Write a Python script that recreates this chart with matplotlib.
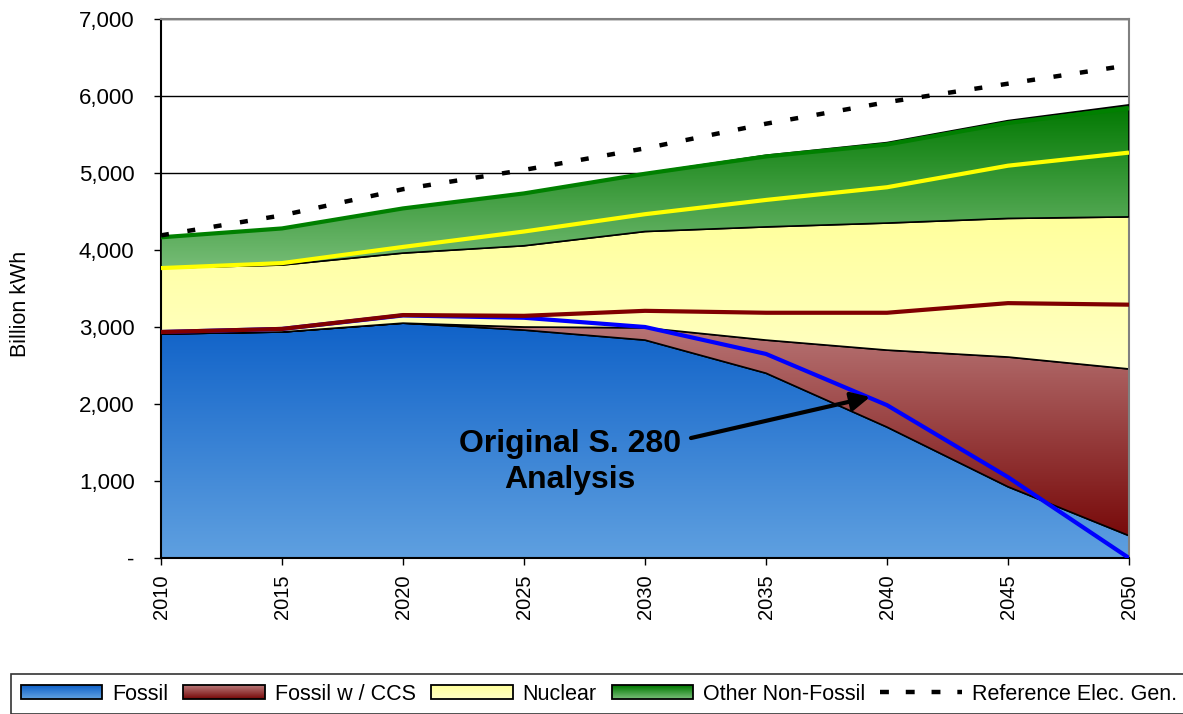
import numpy as np
import matplotlib
matplotlib.use("Agg")
import matplotlib.pyplot as plt
from matplotlib.colors import LinearSegmentedColormap
from matplotlib.patches import Rectangle, Patch
from matplotlib.lines import Line2D
from matplotlib.legend_handler import HandlerBase
from matplotlib.ticker import FuncFormatter, MultipleLocator

plt.rcParams["font.family"] = ["Liberation Sans", "DejaVu Sans"]

# ---- data (billion kWh) ----
years = [2010, 2015, 2020, 2025, 2030, 2035, 2040, 2045, 2050]
fossil = [2910, 2935, 3050, 2960, 2830, 2400, 1700, 925, 290]
fossil_ccs = [0, 0, 0, 40, 160, 430, 1000, 1685, 2165]
nuclear = [855, 870, 910, 1055, 1250, 1470, 1650, 1800, 1975]
other_non_fossil = [400, 475, 580, 680, 755, 930, 1045, 1270, 1455]
reference_gen = [4190, 4450, 4790, 5040, 5320, 5640, 5920, 6160, 6400]

# original S. 280 analysis (cumulative levels)
s280_fossil = [2935, 2975, 3150, 3120, 3000, 2650, 1985, 1050, 0]
s280_ccs_top = [2935, 2975, 3155, 3145, 3210, 3185, 3185, 3310, 3290]
s280_nuclear_top = [3765, 3830, 4040, 4240, 4465, 4650, 4815, 5095, 5265]
s280_total = [4165, 4280, 4540, 4735, 4990, 5215, 5370, 5650, 5840]

series_labels = ["Fossil", "Fossil w / CCS", "Nuclear", "Other Non-Fossil"]
reference_label = "Reference Elec. Gen."
annotation_text = "Original S. 280\nAnalysis"
y_label = "Billion kWh"

# gradient colours (top, bottom)
grad_colors = [
    ("#1062C8", "#5FA0E0"),
    ("#B87676", "#780A0A"),
    ("#FFFF9C", "#FFFFC4"),
    ("#007800", "#76BC76"),
]

x = np.array(years, dtype=float)
layers = [np.array(v, dtype=float) for v in (fossil, fossil_ccs, nuclear, other_non_fossil)]

fig = plt.figure(figsize=(11.83, 7.14), dpi=100)
ax = fig.add_axes([161 / 1183, (714 - 558) / 714, (1129 - 161) / 1183, (558 - 19) / 714])


def gradient_area(ax, x, lo, hi, c_top, c_bot, z):
    poly = ax.fill_between(x, lo, hi, facecolor="none", edgecolor="black",
                           linewidth=1.2, zorder=z + 0.1)
    cmap = LinearSegmentedColormap.from_list("g", [c_bot, c_top])
    grad = np.linspace(0, 1, 256).reshape(-1, 1)
    im = ax.imshow(grad, extent=[x[0], x[-1], lo.min(), hi.max()], origin="lower",
                   cmap=cmap, aspect="auto", zorder=z, interpolation="bilinear")
    im.set_clip_path(poly.get_paths()[0], transform=ax.transData)


base = np.zeros_like(x)
for i, (vals, (ct, cb)) in enumerate(zip(layers, grad_colors)):
    top = base + vals
    gradient_area(ax, x, base, top, ct, cb, 2 + i * 0.2)
    base = top

# original analysis lines
ax.plot(x, s280_total, color="#008000", lw=3, zorder=3, solid_capstyle="butt")
ax.plot(x, s280_fossil, color="#0000FF", lw=3, zorder=3.1, solid_capstyle="butt")
ax.plot(x, s280_ccs_top, color="#800000", lw=3, zorder=3.2, solid_capstyle="butt")
ax.plot(x, s280_nuclear_top, color="#FFFF00", lw=3, zorder=3.3, solid_capstyle="butt")

# reference generation
ax.plot(x, reference_gen, color="black", lw=3.2, ls=(0, (1.8, 4.2)), zorder=4,
        dash_capstyle="butt")

# annotation
ax.annotate("", xy=(2039.3, 2091), xytext=(2031.9, 1558),
            arrowprops=dict(arrowstyle="-|>", lw=3, color="black",
                            mutation_scale=28, shrinkA=0, shrinkB=0),
            zorder=6)
ax.text(2026.9, 1250, annotation_text, ha="center", va="center",
        fontsize=23, fontweight="bold", linespacing=1.25, zorder=6)

# axes styling
ax.set_xlim(2010, 2050)
ax.set_ylim(0, 7000)
ax.set_xticks(years)
ax.set_xticklabels([str(y) for y in years], rotation=90, fontsize=14.5)
ax.yaxis.set_major_locator(MultipleLocator(1000))
ax.yaxis.set_major_formatter(FuncFormatter(lambda v, p: "-" if v == 0 else f"{int(v):,}"))
ax.tick_params(axis="y", labelsize=16, length=5, width=1, pad=14, direction="out")
ax.tick_params(axis="x", length=5, width=1, pad=7, direction="out")
ax.grid(axis="y", color="black", lw=1, zorder=0)
ax.set_axisbelow(True)
for side in ("top", "right"):
    ax.spines[side].set_color("#808080")
    ax.spines[side].set_linewidth(1.5)
for side in ("left", "bottom"):
    ax.spines[side].set_color("black")
    ax.spines[side].set_linewidth(1.5)
ax.set_ylabel(y_label, fontsize=15.5)
ax.yaxis.set_label_coords(-130 / 968, 0.471)


class GradientHandler(HandlerBase):
    def __init__(self, c_top, c_bot):
        super().__init__()
        self.cmap = LinearSegmentedColormap.from_list("h", [c_bot, c_top])

    def create_artists(self, legend, orig_handle, xdescent, ydescent,
                       width, height, fontsize, trans):
        n = 14
        arts = []
        for i in range(n):
            arts.append(Rectangle((-xdescent, -ydescent + height * i / n), width,
                                  height / n * 1.05, facecolor=self.cmap(i / (n - 1)),
                                  edgecolor="none", transform=trans))
        arts.append(Rectangle((-xdescent, -ydescent), width, height, fill=False,
                              edgecolor="black", lw=1.3, transform=trans))
        return arts


handles = [Patch(label=l) for l in series_labels]
handler_map = {h: GradientHandler(ct, cb) for h, (ct, cb) in zip(handles, grad_colors)}
ref_handle = Line2D([], [], color="black", lw=3.2, ls=(0, (2.0, 3.8)), dash_capstyle="butt")
handles.append(ref_handle)
labels = series_labels + [reference_label]

leg = fig.legend(handles, labels, handler_map=handler_map, ncol=5,
                 loc="upper left", bbox_to_anchor=(11 / 1183, 1 - 674 / 714),
                 fontsize=15.5, frameon=True, fancybox=False, edgecolor="black",
                 handlelength=3.8, handleheight=0.65, handletextpad=0.45,
                 columnspacing=0.7, borderpad=0.45, borderaxespad=0)
leg.get_frame().set_linewidth(1.2)

fig.savefig("out.png", dpi=100)
